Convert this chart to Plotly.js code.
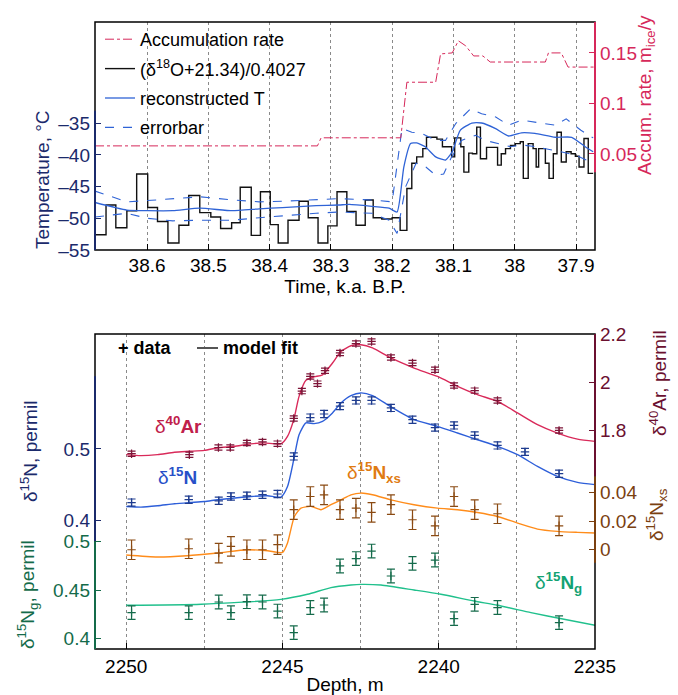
<!DOCTYPE html>
<html><head><meta charset="utf-8">
<script src="https://cdn.plot.ly/plotly-3.0.1.min.js"></script>
<style>html,body{margin:0;padding:0;background:#fff}</style>
</head><body><div id="chart" style="width:678px;height:695px"></div>
<script>
// ---------- top panel data (time, ka BP) ----------
var accTime = [38.685, 38.322, 38.316, 38.186, 38.176, 38.129, 38.121, 38.102, 38.092, 38.080, 38.067, 38.052, 38.040, 37.950, 37.945, 37.924, 37.913, 37.869];
var accRate = [0.058, 0.058, 0.066, 0.066, 0.121, 0.121, 0.149, 0.150, 0.162, 0.157, 0.147, 0.147, 0.141, 0.141, 0.150, 0.150, 0.136, 0.136];

var d18Time = [38.685, 38.667, 38.651, 38.633, 38.617, 38.599, 38.583, 38.566, 38.548, 38.532, 38.514, 38.496, 38.480, 38.462, 38.448, 38.430, 38.415, 38.399, 38.386, 38.370, 38.352, 38.337, 38.321, 38.305, 38.290, 38.274, 38.259, 38.244, 38.231, 38.217, 38.200, 38.187, 38.176, 38.168, 38.160, 38.150, 38.144, 38.127, 38.118, 38.103, 38.098, 38.088, 38.083, 38.075, 38.069, 38.062, 38.056, 38.046, 38.028, 38.022, 38.015, 38.007, 37.999, 37.991, 37.986, 37.978, 37.970, 37.965, 37.961, 37.950, 37.944, 37.937, 37.931, 37.924, 37.916, 37.908, 37.901, 37.895, 37.887, 37.880, 37.872];
var d18T = [-52.6, -47.9, -51.5, -48.8, -43.0, -48.3, -50.5, -53.9, -51.1, -46.4, -49.1, -49.8, -51.6, -50.7, -45.1, -52.7, -45.8, -51.0, -53.9, -50.3, -47.3, -49.9, -53.9, -51.2, -45.8, -48.9, -51.1, -47.1, -49.9, -50.1, -49.9, -51.9, -45.3, -41.3, -40.3, -39.0, -37.2, -37.5, -38.7, -40.3, -37.3, -38.7, -42.7, -39.7, -39.8, -35.6, -40.6, -38.8, -41.6, -39.8, -39.0, -38.5, -38.2, -37.9, -43.7, -38.2, -39.0, -41.9, -39.0, -41.3, -43.7, -39.8, -36.4, -41.1, -39.5, -39.8, -40.2, -41.9, -37.4, -42.9, -42.9];

var recTime = [38.685, 38.633, 38.600, 38.558, 38.514, 38.461, 38.417, 38.379, 38.324, 38.287, 38.270, 38.233, 38.205, 38.192, 38.181, 38.170, 38.160, 38.146, 38.129, 38.113, 38.102, 38.089, 38.070, 38.054, 38.032, 38.010, 37.989, 37.967, 37.934, 37.907, 37.885, 37.872];
var recT = [-47.5, -48.7, -48.8, -48.8, -48.4, -48.8, -48.5, -48.3, -48.0, -47.9, -47.8, -48.1, -48.4, -49.0, -41.9, -38.2, -38.1, -38.7, -40.3, -40.8, -39.5, -36.1, -34.95, -34.95, -35.8, -37.0, -36.5, -36.6, -37.2, -37.2, -38.7, -39.5];

var errUpTime = [38.685, 38.633, 38.600, 38.558, 38.514, 38.461, 38.417, 38.379, 38.324, 38.287, 38.233, 38.200, 38.184, 38.168, 38.152, 38.129, 38.113, 38.096, 38.072, 38.054, 38.031, 38.010, 37.989, 37.966, 37.934, 37.916, 37.892, 37.872];
var errUp = [-45.7, -47.4, -47.2, -46.9, -46.6, -47.1, -47.4, -47.3, -47.0, -46.9, -47.1, -47.4, -35.8, -36.4, -36.6, -37.7, -37.7, -35.0, -32.7, -33.5, -34.0, -35.3, -34.5, -34.8, -35.3, -34.3, -36.1, -37.3];
var errLoTime = [38.685, 38.633, 38.600, 38.558, 38.514, 38.461, 38.417, 38.379, 38.324, 38.287, 38.233, 38.205, 38.192, 38.178, 38.161, 38.145, 38.129, 38.116, 38.103, 38.087, 38.064, 38.048, 38.026, 38.007, 37.989, 37.966, 37.934, 37.901, 37.872];
var errLo = [-49.8, -49.2, -50.0, -50.4, -50.3, -50.3, -49.9, -49.6, -49.2, -49.0, -49.2, -50.3, -52.4, -45.0, -41.3, -41.9, -43.2, -43.0, -40.3, -37.7, -36.9, -37.7, -38.2, -38.7, -38.4, -38.7, -39.3, -40.0, -41.3];

var timeTicks = [38.6, 38.5, 38.4, 38.3, 38.2, 38.1, 38, 37.9];
var timeTickText = ['38.6', '38.5', '38.4', '38.3', '38.2', '38.1', '38', '37.9'];
var tempTicks = [-55, -50, -45, -40, -35];
var tempTickText = ['–55', '–50', '–45', '–40', '–35'];
var accTicks = [0.05, 0.1, 0.15];
var accTickText = ['0.05', '0.1', '0.15'];

// ---------- bottom panel data (depth, m) ----------
var arDepth = [2249.83, 2247.98, 2247.05, 2246.67, 2246.14, 2245.64, 2245.16, 2244.64, 2244.38, 2244.11, 2243.88, 2243.64, 2243.16, 2242.65, 2242.15, 2241.53, 2240.84, 2240.12, 2239.51, 2238.85, 2238.12, 2236.15];
var arVal = [1.704, 1.700, 1.730, 1.730, 1.749, 1.753, 1.746, 1.851, 1.965, 2.026, 1.996, 2.050, 2.124, 2.163, 2.172, 2.105, 2.082, 2.054, 1.988, 1.967, 1.926, 1.801];
var arErr = 0.011;
var arFitDepth = [2250.00, 2249.53, 2249.00, 2248.46, 2247.98, 2247.50, 2247.08, 2246.55, 2246.01, 2245.59, 2245.05, 2244.84, 2244.64, 2244.47, 2244.25, 2243.99, 2243.72, 2243.40, 2243.13, 2242.81, 2242.49, 2242.12, 2241.53, 2240.79, 2240.04, 2239.40, 2238.76, 2238.12, 2237.48, 2236.84, 2236.20, 2235.56, 2234.97];
var arFit = [1.700, 1.696, 1.700, 1.710, 1.714, 1.718, 1.728, 1.735, 1.745, 1.749, 1.745, 1.776, 1.846, 1.943, 2.010, 2.024, 2.033, 2.082, 2.130, 2.154, 2.158, 2.145, 2.103, 2.061, 2.026, 1.985, 1.950, 1.922, 1.874, 1.825, 1.790, 1.765, 1.755];

var nDepth = [2249.83, 2248.00, 2247.04, 2246.65, 2246.14, 2245.64, 2245.16, 2244.64, 2244.11, 2243.67, 2243.16, 2242.65, 2242.15, 2241.53, 2240.84, 2240.12, 2239.51, 2238.85, 2238.12, 2237.24, 2236.15];
var nVal = [0.425, 0.429, 0.4275, 0.4335, 0.4345, 0.436, 0.437, 0.4896, 0.544, 0.549, 0.560, 0.568, 0.568, 0.5575, 0.541, 0.530, 0.533, 0.519, 0.505, 0.496, 0.4654];
var nErr = 0.005;
var nFitDepth = [2250.00, 2249.53, 2249.00, 2248.46, 2247.98, 2247.50, 2247.08, 2246.55, 2246.01, 2245.48, 2245.05, 2244.84, 2244.64, 2244.47, 2244.25, 2243.99, 2243.72, 2243.40, 2243.13, 2242.81, 2242.49, 2242.12, 2241.53, 2240.79, 2240.04, 2239.40, 2238.76, 2238.12, 2237.48, 2236.84, 2236.20, 2235.56, 2234.97];
var nFit = [0.4195, 0.4186, 0.4205, 0.4233, 0.425, 0.4265, 0.429, 0.4313, 0.4335, 0.4345, 0.4327, 0.4475, 0.485, 0.520, 0.5365, 0.5355, 0.5387, 0.5505, 0.5645, 0.5748, 0.5785, 0.5748, 0.559, 0.541, 0.5317, 0.5224, 0.513, 0.5036, 0.492, 0.4756, 0.4616, 0.4532, 0.450];

var xsDepth = [2249.83, 2248.00, 2247.04, 2246.65, 2246.14, 2245.64, 2245.16, 2244.64, 2244.11, 2243.67, 2243.16, 2242.65, 2242.15, 2241.53, 2240.84, 2240.12, 2239.51, 2238.85, 2238.12, 2236.15];
var xsVal = [0.0, 0.0007, -0.0023, 0.0023, 0.0, 0.0, 0.0035, 0.0279, 0.0371, 0.0383, 0.0279, 0.029, 0.026, 0.0314, 0.0209, 0.0167, 0.0371, 0.0279, 0.0251, 0.0167];
var xsErr = 0.0068;
var xsFitDepth = [2250.00, 2249.00, 2248.05, 2247.08, 2246.12, 2245.48, 2245.00, 2244.84, 2244.62, 2244.41, 2244.09, 2243.77, 2243.45, 2243.13, 2242.81, 2242.49, 2242.12, 2241.53, 2240.79, 2240.04, 2239.40, 2238.76, 2238.12, 2237.48, 2236.84, 2236.20, 2235.56, 2234.97];
var xsFit = [-0.0037, -0.0051, -0.0042, -0.0023, 0.0, -0.0007, -0.0019, 0.0047, 0.0232, 0.029, 0.0302, 0.0279, 0.0314, 0.0348, 0.0383, 0.0395, 0.0383, 0.0348, 0.0314, 0.029, 0.0279, 0.026, 0.0232, 0.0186, 0.0144, 0.0128, 0.0121, 0.0116];

var gDepth = [2249.83, 2248.00, 2247.04, 2246.65, 2246.14, 2245.64, 2245.16, 2244.64, 2244.11, 2243.67, 2243.16, 2242.65, 2242.15, 2241.53, 2240.84, 2240.12, 2239.51, 2238.85, 2238.12, 2236.15];
var gVal = [0.4268, 0.4268, 0.4377, 0.4268, 0.438, 0.4377, 0.4284, 0.4062, 0.432, 0.4346, 0.4747, 0.4823, 0.490, 0.4644, 0.4774, 0.4808, 0.4206, 0.4353, 0.432, 0.4165];
var gErr = 0.007;
var gFitDepth = [2250.00, 2247.60, 2245.05, 2244.20, 2243.45, 2242.81, 2242.49, 2241.85, 2240.79, 2239.93, 2238.87, 2238.12, 2237.05, 2235.99, 2234.97];
var gFit = [0.4343, 0.4353, 0.4404, 0.4456, 0.4524, 0.4551, 0.4558, 0.4551, 0.450, 0.4456, 0.4387, 0.4343, 0.4268, 0.4199, 0.4137];

var depthTicks = [2250, 2245, 2240, 2235];
var depthMinor = [2247.5, 2242.5, 2237.5];

// ---------- styling ----------
var FONT = 'Liberation Sans, Arial, sans-serif';
var TF = 19;
var NAVY = '#1b2a6b', CRIM = '#d6285a', RECB = '#2f63d6';
var AR_D = '#7d1538', AR_C = '#d92a5a', AR_AX = '#6b1030';
var N_D = '#1f3c8f', N_C = '#2e5fd9';
var XS_D = '#8a4a12', XS_C = '#ff8c1a', XS_AX = '#7a4010';
var G_D = '#156b4b', G_C = '#20c08c', G_AX = '#146b4a';

function px2x(p) { return (p - 95) / 500; }
function px2y(p) { return (649 - p) / 627; }

function dataTrace(x, y, err, col, ya) {
  return { x: x, y: y, xaxis: 'x', yaxis: ya, type: 'scatter', mode: 'markers', showlegend: false,
    marker: { symbol: 'cross-thin', size: 6, line: { color: col, width: 1.2 }, color: col },
    error_y: { type: 'constant', value: err, color: col, thickness: 1.2, width: 4 } };
}
function fitTrace(x, y, col, ya) {
  return { x: x, y: y, xaxis: 'x', yaxis: ya, type: 'scatter', mode: 'lines', showlegend: false,
    line: { color: col, width: 1.4, shape: 'spline', smoothing: 0.6 } };
}

var traces = [
  { x: accTime, y: accRate, xaxis: 'x2', yaxis: 'y6', type: 'scatter', mode: 'lines', name: 'Accumulation rate', legendgroup: 'g1',
    line: { color: CRIM, dash: 'dashdot', width: 1 } },
  { x: d18Time, y: d18T, xaxis: 'x2', yaxis: 'y2', type: 'scatter', mode: 'lines', name: '(δ<sup>18</sup>O+21.34)/0.4027', legendgroup: 'g2',
    line: { color: '#111', width: 1.4, shape: 'hv' } },
  { x: recTime, y: recT, xaxis: 'x2', yaxis: 'y2', type: 'scatter', mode: 'lines', name: 'reconstructed T', legendgroup: 'g3',
    line: { color: RECB, width: 1.3, shape: 'spline', smoothing: 0.5 } },
  { x: errUpTime, y: errUp, xaxis: 'x2', yaxis: 'y2', type: 'scatter', mode: 'lines', name: 'errorbar', legendgroup: 'g4',
    line: { color: RECB, width: 1.1, dash: 'dash' } },
  { x: errLoTime, y: errLo, xaxis: 'x2', yaxis: 'y2', type: 'scatter', mode: 'lines', name: 'errorbar', legendgroup: 'g4', showlegend: false,
    line: { color: RECB, width: 1.1, dash: 'dash' } },
  fitTrace(nFitDepth, nFit, N_C, 'y'),
  dataTrace(nDepth, nVal, nErr, N_D, 'y'),
  fitTrace(gFitDepth, gFit, G_C, 'y3'),
  dataTrace(gDepth, gVal, gErr, G_D, 'y3'),
  fitTrace(arFitDepth, arFit, AR_C, 'y4'),
  dataTrace(arDepth, arVal, arErr, AR_D, 'y4'),
  fitTrace(xsFitDepth, xsFit, XS_C, 'y5'),
  dataTrace(xsDepth, xsVal, xsErr, XS_D, 'y5')
];

function yax(o) {
  var base = { showgrid: false, zeroline: false, showline: false, ticks: 'inside', ticklen: 6, ticklabelstandoff: 4,
    tickfont: { size: TF, color: o.color, family: FONT }, tickcolor: o.color, automargin: false, fixedrange: true };
  for (var k in o) if (k !== 'color') base[k] = o[k];
  return base;
}
function ann(text, px, py, col, size, angle, extra) {
  var a = { text: text, xref: 'paper', yref: 'paper', x: px2x(px), y: px2y(py), xanchor: 'center', yanchor: 'middle',
    showarrow: false, font: { size: size, color: col, family: FONT } };
  if (angle) a.textangle = angle;
  if (extra) for (var k in extra) a[k] = extra[k];
  return a;
}

var TOP0 = 0.6364, BOT1 = 0.5024;
var layout = {
  width: 678, height: 695,
  margin: { l: 95, r: 83, t: 22, b: 46 },
  paper_bgcolor: '#fff', plot_bgcolor: 'rgba(0,0,0,0)',
  font: { family: FONT, size: 18, color: '#000' },
  hovermode: false,
  showlegend: true,
  legend: { x: px2x(100), y: px2y(21), xanchor: 'left', yanchor: 'top', bgcolor: 'rgba(0,0,0,0)', borderwidth: 0,
    font: { size: 18, family: FONT }, traceorder: 'grouped', tracegroupgap: 3, itemwidth: 30 },
  xaxis: { domain: [0, 1], anchor: 'y', range: [2251, 2235], tickmode: 'array', tickvals: depthTicks,
    ticks: 'inside', ticklen: 6, tickcolor: '#000', showline: false, zeroline: false, ticklabelstandoff: 4,
    showgrid: true, gridcolor: '#8a8a8a', griddash: 'dot', gridwidth: 1,
    minor: { tickmode: 'array', tickvals: depthMinor, showgrid: true, gridcolor: '#8a8a8a', griddash: 'dot', gridwidth: 1, ticks: '' },
    tickfont: { size: TF, family: FONT }, automargin: false, fixedrange: true,
    title: { text: 'Depth, m', font: { size: TF, family: FONT }, standoff: 4 } },
  yaxis: yax({ domain: [0, BOT1], anchor: 'x', range: [0.22, 0.661], tickmode: 'array', tickvals: [0.4, 0.5], ticktext: ['0.4', '0.5'], color: NAVY }),
  yaxis3: yax({ overlaying: 'y', side: 'left', anchor: 'x', range: [0.3894, 0.713], tickmode: 'array', tickvals: [0.4, 0.45, 0.5], ticktext: ['0.4', '0.45', '0.5'], color: G_AX }),
  yaxis4: yax({ overlaying: 'y', side: 'right', anchor: 'x', range: [0.890, 2.203], tickmode: 'array', tickvals: [1.8, 2.0, 2.2], ticktext: ['1.8', '2', '2.2'], color: AR_AX }),
  yaxis5: yax({ overlaying: 'y', side: 'right', anchor: 'x', range: [-0.0692, 0.1504], tickmode: 'array', tickvals: [0, 0.02, 0.04], ticktext: ['0', '0.02', '0.04'], color: XS_AX }),
  xaxis2: { domain: [0, 1], anchor: 'y2', range: [38.685, 37.869], tickmode: 'array', tickvals: timeTicks, ticktext: timeTickText,
    ticks: 'inside', ticklen: 6, tickcolor: '#000', showline: false, zeroline: false, ticklabelstandoff: 2,
    showgrid: true, gridcolor: '#8a8a8a', griddash: 'dot', gridwidth: 1,
    tickfont: { size: TF, family: FONT }, automargin: false, fixedrange: true,
    title: { text: 'Time, k.a. B.P.', font: { size: TF, family: FONT }, standoff: 0 } },
  yaxis2: yax({ domain: [TOP0, 1], anchor: 'x2', range: [-55, -19], tickmode: 'array', tickvals: tempTicks, ticktext: tempTickText, color: NAVY }),
  yaxis6: yax({ overlaying: 'y2', side: 'right', anchor: 'x2', range: [-0.045, 0.1806], tickmode: 'array', tickvals: accTicks, ticktext: accTickText, color: CRIM }),
  shapes: [
    { type: 'rect', xref: 'paper', yref: 'paper', x0: 0, x1: 1, y0: TOP0, y1: 1, line: { color: '#000', width: 1.5 }, layer: 'above' },
    { type: 'rect', xref: 'paper', yref: 'paper', x0: 0, x1: 1, y0: 0, y1: BOT1, line: { color: '#000', width: 1.5 }, layer: 'above' },
    { type: 'line', xref: 'paper', yref: 'y2', x0: 0, x1: 0, y0: -55, y1: -33, line: { color: NAVY, width: 2 }, layer: 'above' },
    { type: 'line', xref: 'paper', yref: 'y6', x0: 1, x1: 1, y0: 0.032, y1: 0.1806, line: { color: CRIM, width: 2 }, layer: 'above' },
    { type: 'line', xref: 'paper', yref: 'y', x0: 0, x1: 0, y0: 0.371, y1: 0.602, line: { color: NAVY, width: 2 }, layer: 'above' },
    { type: 'line', xref: 'paper', yref: 'y3', x0: 0, x1: 0, y0: 0.3894, y1: 0.50, line: { color: G_AX, width: 2 }, layer: 'above' },
    { type: 'line', xref: 'paper', yref: 'y4', x0: 1, x1: 1, y0: 1.61, y1: 2.203, line: { color: AR_AX, width: 2 }, layer: 'above' },
    { type: 'line', xref: 'paper', yref: 'y5', x0: 1, x1: 1, y0: -0.009, y1: 0.051, line: { color: XS_AX, width: 2 }, layer: 'above' },
    { type: 'line', xref: 'paper', yref: 'paper', x0: px2x(197), x1: px2x(218), y0: px2y(348), y1: px2y(348), line: { color: '#555', width: 2 } }
  ],
  annotations: [
    ann('Temperature, °C', 43, 180, NAVY, TF, -90),
    ann('Accum. rate, m<sub>ice</sub>/y', 646, 95, CRIM, TF, -90),
    ann('δ<sup>15</sup>N, permil', 29, 452, NAVY, TF, -90),
    ann('δ<sup>15</sup>N<sub>g</sub>, permil', 27, 595, G_AX, TF, -90),
    ann('δ<sup>40</sup>Ar, permil', 658, 383, AR_AX, TF, -90),
    ann('δ<sup>15</sup>N<sub>xs</sub>', 656, 515, XS_AX, TF, -90),
    ann('<b>+ data</b>', 116, 348, '#000', 18, 0, { xanchor: 'left' }),
    ann('<b>model fit</b>', 221, 348, '#000', 18, 0, { xanchor: 'left' }),
    ann('δ<b><sup>40</sup>Ar</b>', 178, 425, '#c0204a', 19),
    ann('δ<b><sup>15</sup>N</b>', 177, 476, '#2850c8', 19),
    ann('δ<b><sup>15</sup>N<sub>xs</sub></b>', 374, 472, '#e07b12', 19),
    ann('δ<b><sup>15</sup>N<sub>g</sub></b>', 558, 582, '#13a273', 19)
  ]
};

Plotly.newPlot('chart', traces, layout, { staticPlot: true, displayModeBar: false });
</script></body></html>
